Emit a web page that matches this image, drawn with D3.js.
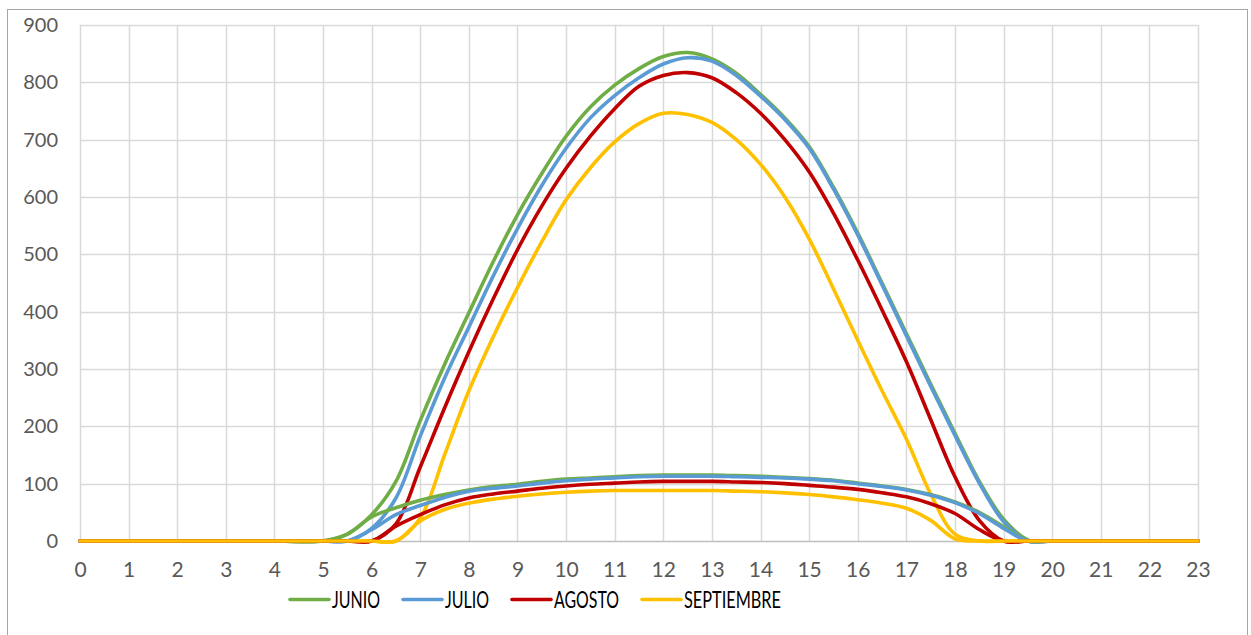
<!DOCTYPE html>
<html>
<head>
<meta charset="utf-8">
<script src="https://cdn.jsdelivr.net/npm/d3@7"></script>
<style>
  html, body { margin: 0; padding: 0; background: #fff; }
  svg { display: block; }
</style>
</head>
<body>
<svg id="chart" width="1251" height="635"></svg>
<script>
// Hours of the day (x values shared by every series)
const hours = [0, 1, 2, 3, 4,
  5, 5.5, 6, 6.5, 7, 7.5, 8, 8.5, 9, 9.5, 10, 10.5, 11, 11.5, 12, 12.5,
  13, 13.5, 14, 14.5, 15, 15.5, 16, 16.5, 17, 17.5, 18, 18.5, 19, 19.5, 20,
  21, 22, 23];

// Irradiance curves (W/m²): the large curve and the small curve for each month
const junioA = [0, 0, 0, 0, 0,
  0, 12, 46, 104, 210, 308, 398, 487, 569, 641, 706, 757, 795, 824, 845, 852,
  841, 816, 779, 738, 688, 617, 537, 450, 362, 274, 188, 104, 38, 2, 0,
  0, 0, 0];
const julioA = [0, 0, 0, 0, 0,
  0, 0, 22, 75, 183, 284, 373, 462, 545, 620, 685, 738, 777, 808, 832, 843,
  837, 812, 776, 735, 685, 614, 534, 447, 358, 270, 184, 101, 34, 0, 0,
  0, 0, 0];
const agostoA = [0, 0, 0, 0, 0,
  0, 0, 0, 30, 129, 232, 330, 422, 508, 584, 650, 706, 754, 793, 812, 817,
  808, 782, 746, 700, 644, 572, 490, 403, 313, 212, 112, 36, 0, 0, 0,
  0, 0, 0];
const septiembreA = [0, 0, 0, 0, 0,
  0, 0, 0, 0, 40, 150, 262, 356, 442, 522, 595, 651, 696, 728, 746, 744,
  730, 700, 657, 600, 527, 440, 350, 262, 178, 82, 12, 0, 0, 0, 0,
  0, 0, 0];

const junioB = [0, 0, 0, 0, 0,
  0, 12, 42, 58, 71, 81, 89, 95, 99, 104, 108, 110, 112, 114, 115, 115,
  115, 114, 113, 111, 109, 106, 101, 96, 90, 81, 68, 50, 25, 0, 0,
  0, 0, 0];
const julioB = [0, 0, 0, 0, 0,
  0, 0, 20, 46, 62, 76, 87, 92, 96, 101, 105, 108, 110, 112, 113, 113,
  113, 112, 111, 110, 108, 105, 100, 95, 89, 80, 67, 48, 22, 0, 0,
  0, 0, 0];
const agostoB = [0, 0, 0, 0, 0,
  0, 0, 0, 26, 46, 63, 75, 82, 87, 92, 96, 99, 101, 103, 104, 104,
  104, 103, 102, 100, 97, 94, 90, 84, 77, 65, 48, 20, 0, 0, 0,
  0, 0, 0];
const septiembreB = [0, 0, 0, 0, 0,
  0, 0, 0, 0, 35, 55, 66, 73, 78, 82, 85, 87, 88, 88, 88, 88,
  88, 87, 86, 84, 81, 77, 72, 66, 57, 36, 4, 0, 0, 0, 0,
  0, 0, 0];

// Legend names and colours
const monthNames = ["JUNIO", "JULIO", "AGOSTO", "SEPTIEMBRE"];
const monthColors = ["#70AD47", "#5B9BD5", "#C00000", "#FFC000"];

// Axis ticks
const xTicks = d3.range(0, 24);
const yTicks = [0, 100, 200, 300, 400, 500, 600, 700, 800, 900];

const svg = d3.select("#chart");

// Chart frame
svg.append("rect")
  .attr("x", 7.5).attr("y", 9.5)
  .attr("width", 1240).attr("height", 640)
  .attr("fill", "none").attr("stroke", "#A6A6A6").attr("stroke-width", 1);

const x = d3.scaleLinear().domain([0, 23]).range([80, 1198]);
const y = d3.scaleLinear().domain([0, 900]).range([541, 25]);

// Gridlines
const grid = svg.append("g");
grid.selectAll("line.h").data(yTicks.filter(d => d > 0)).join("line")
  .attr("x1", x(0)).attr("x2", x(23))
  .attr("y1", d => Math.round(y(d)) + 0.5).attr("y2", d => Math.round(y(d)) + 0.5)
  .attr("stroke", "#D9D9D9").attr("stroke-width", 1.5);
grid.selectAll("line.v").data(xTicks).join("line")
  .attr("x1", d => Math.round(x(d)) + 0.5).attr("x2", d => Math.round(x(d)) + 0.5)
  .attr("y1", y(900)).attr("y2", y(0))
  .attr("stroke", "#D9D9D9").attr("stroke-width", 1.5);

// Baseline
svg.append("line")
  .attr("x1", x(0)).attr("x2", x(23))
  .attr("y1", y(0) + 0.5).attr("y2", y(0) + 0.5)
  .attr("stroke", "#BFBFBF").attr("stroke-width", 1.5);

// Axes labels
const yAxis = svg.append("g")
  .attr("transform", `translate(${x(0) - 22},0)`)
  .call(d3.axisLeft(y).tickValues(yTicks).tickSize(0).tickPadding(0));
yAxis.select(".domain").remove();
yAxis.selectAll("text")
  .attr("font-family", "Lato, 'Open Sans', sans-serif")
  .attr("font-size", 20).attr("fill", "#595959");

const xAxis = svg.append("g")
  .attr("transform", `translate(0,${y(0) + 21})`)
  .call(d3.axisBottom(x).tickValues(xTicks).tickSize(0).tickPadding(0));
xAxis.select(".domain").remove();
xAxis.selectAll("text")
  .attr("font-family", "Lato, 'Open Sans', sans-serif")
  .attr("font-size", 21).attr("fill", "#595959");

// Series
const line = d3.line()
  .x((d, i) => x(hours[i]))
  .y(d => y(d))
  .curve(d3.curveCatmullRom.alpha(0.5));

const series = [
  { values: junioA, color: monthColors[0] },
  { values: julioA, color: monthColors[1] },
  { values: agostoA, color: monthColors[2] },
  { values: septiembreA, color: monthColors[3] },
  { values: junioB, color: monthColors[0] },
  { values: julioB, color: monthColors[1] },
  { values: agostoB, color: monthColors[2] },
  { values: septiembreB, color: monthColors[3] }
];

svg.append("g").selectAll("path").data(series).join("path")
  .attr("d", d => line(d.values))
  .attr("fill", "none")
  .attr("stroke", d => d.color)
  .attr("stroke-width", 3.6)
  .attr("stroke-linejoin", "round")
  .attr("stroke-linecap", "round");

// Legend
const legendWidths = [48, 44, 65, 97];
const legend = svg.append("g");
let lx = 290;
monthNames.forEach((name, i) => {
  legend.append("line")
    .attr("x1", lx).attr("x2", lx + 39)
    .attr("y1", 599.5).attr("y2", 599.5)
    .attr("stroke", monthColors[i]).attr("stroke-width", 3.6)
    .attr("stroke-linecap", "round");
  legend.append("text")
    .attr("x", lx + 42).attr("y", 607.5)
    .attr("font-family", "Lato, 'Open Sans', sans-serif")
    .attr("font-size", 24)
    .attr("fill", "#000")
    .attr("textLength", legendWidths[i])
    .attr("lengthAdjust", "spacingAndGlyphs")
    .text(name);
  lx += 42 + legendWidths[i] + 23;
});
</script>
</body>
</html>
